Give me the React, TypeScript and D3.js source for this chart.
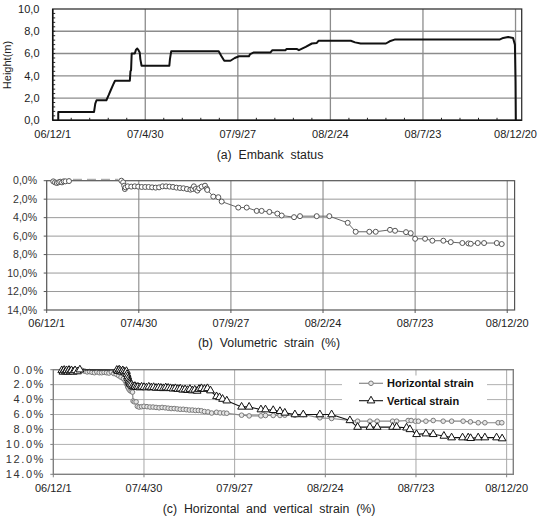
import React from "react";
import * as d3 from "d3";

// Days counted from 2006-12-01
const xTickDays = [0, 150, 300, 450, 600, 750];
const xTickLabels = ["06/12/1", "07/4/30", "07/9/27", "08/2/24", "08/7/23", "08/12/20"];
const heightTicks = [0, 2, 4, 6, 8, 10];
const strainTicks = [0, 2, 4, 6, 8, 10, 12, 14];

// (a) embankment height [day, m]
const embankHeight: [number, number][] = [
  [9, 0], [9, 0.75], [67, 0.75], [69, 1.5], [71, 1.8], [87, 1.8], [91, 2.3], [94, 2.7],
  [98, 3.2], [101, 3.55], [125, 3.55], [126, 4.4], [127, 4.5], [128, 6.0], [133, 6.0],
  [135, 6.35], [137, 6.45], [139, 6.3], [141, 6.1], [142, 5.5], [144, 4.9], [189, 4.9],
  [190, 5.5], [192, 6.2], [269, 6.2], [273, 5.8], [278, 5.35], [288, 5.35], [295, 5.6],
  [302, 5.75], [318, 5.75], [320, 5.95], [326, 6.1], [353, 6.1], [356, 6.3], [377, 6.3],
  [379, 6.4], [396, 6.4], [399, 6.3], [410, 6.6], [420, 6.9], [428, 6.95], [431, 7.15],
  [483, 7.15], [490, 7.0], [499, 6.9], [540, 6.9], [546, 7.1], [554, 7.25], [724, 7.25],
  [730, 7.4], [738, 7.48], [746, 7.4], [749, 6.8], [750, 3.5], [750.5, 0],
];

// (b) volumetric strain [day, %]
const volumetricStrain: [number, number][] = [
  [10.7, 0.07], [13.5, 0.18], [16.4, 0.25], [19.2, 0.18], [22, 0.11], [24.9, 0.18],
  [27.7, 0.07], [30.6, 0.07], [36.3, 0.04], [121.6, 0.0], [124.5, 0.18], [126.2, 0.54],
  [127.3, 0.9], [128.4, 0.72], [132, 0.61], [137.7, 0.64], [143.4, 0.61], [149, 0.64],
  [154.7, 0.68], [160.4, 0.68], [166, 0.68], [171.7, 0.72], [177.4, 0.75], [183, 0.72],
  [188.7, 0.61], [194.4, 0.61], [200, 0.64], [205.7, 0.68], [211.4, 0.75], [217, 0.79],
  [222.7, 0.82], [228.4, 0.9], [234, 0.97], [237.4, 0.9], [239.7, 0.61], [242.5, 0.9],
  [245.4, 1.07], [248.2, 0.82], [252.4, 0.64], [257.8, 0.54], [260.6, 0.85], [261.5, 1.0],
  [271.3, 1.72], [279.5, 1.79], [285, 2.26], [312, 2.91], [325.7, 2.91], [342, 3.27],
  [350, 3.27], [362.6, 3.38], [375.6, 3.56], [382.7, 3.77], [402.8, 3.95], [412.5, 3.84],
  [439.7, 3.84], [460.3, 3.84], [490.2, 4.56], [503.2, 5.53], [525.4, 5.53], [535.8, 5.53],
  [559.1, 5.32], [567.3, 5.42], [585.2, 5.57], [592.8, 5.68], [600, 6.29], [616.2, 6.29],
  [628.1, 6.5], [646, 6.5], [658, 6.65], [676.9, 6.75], [686.8, 6.79], [690.6, 6.83],
  [702, 6.75], [712.3, 6.75], [733, 6.75], [741, 6.86],
];

// (c) horizontal strain [day, %]
const horizontalStrain: [number, number][] = [
  [14, 0.1], [16, 0.2], [18, 0.05], [20, 0.2], [22, 0.1], [24, 0.25], [26, 0.1], [28, 0.2],
  [30, 0.15], [33, 0.05], [36, 0.2], [40, 0.1], [44, 0.15], [48, 0.1], [52, 0.2], [56, 0.3],
  [60, 0.25], [64, 0.35], [68, 0.4], [72, 0.3], [76, 0.4], [80, 0.4], [84, 0.35], [88, 0.4],
  [92, 0.45], [96, 0.3], [100, 0.5], [104, 0.6], [108, 0.8], [112, 1.0], [116, 1.2],
  [119, 1.5], [121, 1.9], [123, 2.3], [125, 2.6], [127, 2.8], [129, 2.9], [131, 3.0],
  [132, 4.2], [134, 4.3], [137, 4.3], [139, 4.9], [142, 5.0], [146, 4.95], [150, 4.9],
  [155, 4.95], [160, 5.0], [165, 5.0], [170, 5.05], [175, 5.1], [180, 5.05], [185, 5.1],
  [190, 5.15], [195, 5.2], [200, 5.2], [205, 5.25], [210, 5.3], [215, 5.3], [220, 5.35],
  [225, 5.4], [230, 5.4], [235, 5.45], [240, 5.45], [245, 5.5], [250, 5.6], [256, 5.65],
  [262, 5.8], [270, 5.7], [276, 5.78], [282, 5.8], [287, 5.83], [311.5, 6.09], [324, 6.18],
  [343.5, 6.18], [351, 6.13], [363.8, 6.13], [375, 6.13], [383, 6.09], [399.7, 6.09],
  [413.5, 6.0], [441, 6.44], [460.4, 6.53], [490.7, 6.79], [503.4, 6.89], [523.8, 6.89],
  [535.8, 6.89], [561.3, 6.89], [568, 6.89], [587, 6.8], [592, 6.8], [599, 6.89], [604, 6.89],
  [616.4, 6.89], [628.5, 6.8], [645, 6.89], [659, 6.89], [678, 6.89], [690, 6.98], [703, 7.1],
  [714, 7.1], [736, 7.1], [742, 7.1],
];

// (c) vertical strain [day, %]
const verticalStrain: [number, number][] = [
  [14, 0.1], [16, 0.3], [18, 0.05], [20, 0.25], [22, 0.1], [24, 0.3], [26, 0.05], [28, 0.25],
  [30, 0.1], [33, 0.3], [36, 0.1], [40, 0.25], [44, 0.0], [105, 0.05], [107, 0.2], [109, 0.0],
  [111, 0.15], [113, 0.3], [115, 0.1], [117, 0.25], [119, 0.4], [121, 0.2], [122, 0.6],
  [123, 0.9], [124, 1.2], [125, 1.5], [126, 1.7], [127, 1.9], [129, 2.0], [131, 2.2],
  [133, 2.3], [135, 2.2], [137, 2.35], [140, 2.3], [143, 2.4], [146, 2.3], [150, 2.35],
  [154, 2.4], [158, 2.3], [162, 2.4], [166, 2.35], [170, 2.45], [174, 2.4], [178, 2.45],
  [182, 2.5], [186, 2.4], [190, 2.45], [194, 2.5], [198, 2.55], [202, 2.5], [206, 2.6],
  [210, 2.55], [214, 2.7], [218, 2.65], [222, 2.75], [226, 2.6], [230, 2.8], [234, 2.7],
  [238, 2.85], [241, 2.6], [245, 2.5], [250, 2.6], [255, 2.5], [260, 2.8], [270, 3.58],
  [275, 3.71], [280, 3.93], [287, 4.15], [311.5, 4.98], [324, 4.98], [343.5, 5.34],
  [351, 5.34], [363.8, 5.43], [375, 5.56], [383, 5.78], [399.7, 6.0], [413.5, 6.0],
  [441, 6.0], [460.4, 6.0], [490.7, 6.79], [503.4, 7.68], [523.8, 7.68], [535.8, 7.68],
  [561.3, 7.68], [568, 7.68], [584.4, 7.77], [590, 7.99], [601, 8.65], [616.4, 8.56],
  [628.5, 8.65], [646.2, 8.87], [658.9, 9.09], [677, 9.09], [686.4, 9.09], [690.4, 9.18],
  [702.9, 9.09], [714, 9.09], [733.3, 9.09], [742.5, 9.22],
];

const seriesNames = ["Horizontal strain", "Vertical strain"];
const captions = ["(a)  Embank  status", "(b)  Volumetric  strain  (%)", "(c)  Horizontal  and  vertical  strain  (%)"];

const FONT = "'Liberation Sans', Arial, sans-serif";

const W = 547;
const H = 517;

const triangle = d3.symbol(d3.symbolTriangle, 26)() as string;

function XLabels({ x, y }: { x: d3.ScaleLinear<number, number>; y: number }) {
  return (
    <g fontFamily={FONT} fontSize={11} fill="#222" textAnchor="middle">
      {xTickDays.map((d, i) => (
        <text key={d} x={x(d)} y={y}>{xTickLabels[i]}</text>
      ))}
    </g>
  );
}

export default function App() {
  // ---------- (a) ----------
  const xA = d3.scaleLinear().domain([0, 760]).range([52.7, 521.7]);
  const yA = d3.scaleLinear().domain([0, 10]).range([120.3, 9]);
  const lineA = d3.line<[number, number]>().x((d) => xA(d[0])).y((d) => yA(d[1]));
  const minorXA = d3.range(30, 760, 30).filter((d) => d % 150 !== 0);
  const minorYA = d3.range(0.4, 10, 0.4);

  // ---------- (b) ----------
  const xB = d3.scaleLinear().domain([0, 762]).range([46.7, 514.6]);
  const yB = d3.scaleLinear().domain([0, 14]).range([180.7, 310]);
  const lineB = d3.line<[number, number]>().x((d) => xB(d[0])).y((d) => yB(d[1]));
  // split into solid runs; long gaps between readings are bridged with a dashed line
  const runsB: [number, number][][] = [];
  const bridgesB: [number, number][][] = [];
  volumetricStrain.forEach((p, i) => {
    if (i === 0 || p[0] - volumetricStrain[i - 1][0] > 40) {
      if (i > 0) bridgesB.push([volumetricStrain[i - 1], p]);
      runsB.push([p]);
    } else runsB[runsB.length - 1].push(p);
  });

  // ---------- (c) ----------
  const xC = d3.scaleLinear().domain([0, 761]).range([53.3, 513.3]);
  const yC = d3.scaleLinear().domain([0, 14]).range([369.7, 474.3]);
  const lineC = d3.line<[number, number]>().x((d) => xC(d[0])).y((d) => yC(d[1]));

  const fmtComma = (v: number) => v.toFixed(1).replace(".", ",");

  return (
    <svg width={W} height={H} style={{ position: "absolute", left: 0, top: 0, background: "#fff" }}>
      <rect width={W} height={H} fill="#fff" />

      {/* ---------------- (a) Embank status ---------------- */}
      <g>
        {heightTicks.slice(1, -1).map((t) => (
          <line key={t} x1={xA(0)} x2={xA(760)} y1={yA(t)} y2={yA(t)} stroke="#8c8c8c" strokeWidth={1.3} />
        ))}
        {xTickDays.slice(1).map((d) => (
          <line key={d} x1={xA(d)} x2={xA(d)} y1={yA(0)} y2={yA(10)} stroke="#8c8c8c" strokeWidth={1.3} />
        ))}
        <rect x={xA(0)} y={yA(10)} width={xA(760) - xA(0)} height={yA(0) - yA(10)} fill="none" stroke="#333" strokeWidth={1.3} />
        <line x1={xA(0)} x2={xA(0)} y1={yA(0)} y2={yA(10)} stroke="#111" strokeWidth={1.5} />
        <line x1={xA(0)} x2={xA(760)} y1={yA(0)} y2={yA(0)} stroke="#111" strokeWidth={1.5} />
        {minorXA.map((d) => (
          <line key={d} x1={xA(d)} x2={xA(d)} y1={yA(0)} y2={yA(0) - 2.5} stroke="#222" strokeWidth={1} />
        ))}
        {minorYA.map((v) => (
          <line key={v} x1={xA(0)} x2={xA(0) + 2.5} y1={yA(v)} y2={yA(v)} stroke="#222" strokeWidth={1} />
        ))}
        <path d={lineA(embankHeight) as string} fill="none" stroke="#111" strokeWidth={2} strokeLinejoin="round" />
        <g fontFamily={FONT} fontSize={11} fill="#222" textAnchor="end">
          {heightTicks.map((t) => (
            <text key={t} x={39.5} y={yA(t)} dy="0.35em">{fmtComma(t)}</text>
          ))}
        </g>
        <text transform={`translate(11,65) rotate(-90)`} fontFamily={FONT} fontSize={11} fill="#222" textAnchor="middle">
          Height(m)
        </text>
        <XLabels x={xA} y={138} />
        <text x={270} y={158.5} fontFamily={FONT} fontSize={12.3} fill="#222" textAnchor="middle" xmlSpace="preserve">
          {captions[0]}
        </text>
      </g>

      {/* ---------------- (b) Volumetric strain ---------------- */}
      <g>
        {strainTicks.slice(1, -1).map((t) => (
          <line key={t} x1={xB(0)} x2={xB(762)} y1={yB(t)} y2={yB(t)} stroke="#9a9a9a" strokeWidth={1} />
        ))}
        {xTickDays.slice(1).map((d) => (
          <line key={d} x1={xB(d)} x2={xB(d)} y1={yB(0)} y2={yB(14)} stroke="#8a8a8a" strokeWidth={1.1} />
        ))}
        <rect x={xB(0)} y={yB(0)} width={xB(762) - xB(0)} height={yB(14) - yB(0)} fill="none" stroke="#555" strokeWidth={1.2} />
        {xTickDays.map((d) => (
          <line key={d} x1={xB(d)} x2={xB(d)} y1={yB(14)} y2={yB(14) + 3} stroke="#555" strokeWidth={1} />
        ))}
        {strainTicks.map((t) => (
          <line key={t} x1={xB(0) - 3} x2={xB(0)} y1={yB(t)} y2={yB(t)} stroke="#555" strokeWidth={1} />
        ))}
        {bridgesB.map((seg, i) => (
          <line key={i} x1={xB(seg[0][0]) + 4} x2={xB(seg[1][0]) - 3} y1={yB(-0.15)} y2={yB(-0.15)}
            stroke="#999" strokeWidth={1} strokeDasharray="9 5" />
        ))}
        {runsB.map((run, i) => (
          <path key={i} d={lineB(run) as string} fill="none" stroke="#666" strokeWidth={1} />
        ))}
        {volumetricStrain.map((p, i) => (
          <circle key={i} cx={xB(p[0])} cy={yB(p[1])} r={2.5} fill="#fff" stroke="#555" strokeWidth={1} />
        ))}
        <g fontFamily={FONT} fontSize={10.5} fill="#333" textAnchor="end">
          {strainTicks.map((t) => (
            <text key={t} x={37} y={yB(t)} dy="0.35em">{fmtComma(t)}%</text>
          ))}
        </g>
        <XLabels x={xB} y={326.7} />
        <text x={269} y={347} fontFamily={FONT} fontSize={12.3} fill="#222" textAnchor="middle" xmlSpace="preserve">
          {captions[1]}
        </text>
      </g>

      {/* ---------------- (c) Horizontal and vertical strain ---------------- */}
      <g>
        {strainTicks.slice(1, -1).map((t) => (
          <line key={t} x1={xC(0)} x2={xC(761)} y1={yC(t)} y2={yC(t)} stroke="#b0b0b0" strokeWidth={1} />
        ))}
        {xTickDays.slice(1).map((d) => (
          <line key={d} x1={xC(d)} x2={xC(d)} y1={yC(0)} y2={yC(14)} stroke="#a8a8a8" strokeWidth={1} />
        ))}
        <rect x={xC(0)} y={yC(0)} width={xC(761) - xC(0)} height={yC(14) - yC(0)} fill="none" stroke="#808080" strokeWidth={1.4} />
        {xTickDays.map((d) => (
          <line key={d} x1={xC(d)} x2={xC(d)} y1={yC(14)} y2={yC(14) + 3} stroke="#808080" strokeWidth={1} />
        ))}
        {strainTicks.map((t) => (
          <line key={t} x1={xC(0) - 3} x2={xC(0)} y1={yC(t)} y2={yC(t)} stroke="#808080" strokeWidth={1} />
        ))}

        {/* horizontal strain */}
        <path d={lineC(horizontalStrain) as string} fill="none" stroke="#888" strokeWidth={1.2} />
        {horizontalStrain.map((p, i) => (
          <circle key={i} cx={xC(p[0])} cy={yC(p[1])} r={2.3} fill="#e6e6e6" stroke="#7a7a7a" strokeWidth={1} />
        ))}
        {/* vertical strain */}
        <path d={lineC(verticalStrain) as string} fill="none" stroke="#111" strokeWidth={1.1} />
        {verticalStrain.map((p, i) => (
          <path key={i} d={triangle} transform={`translate(${xC(p[0])},${yC(p[1])})`} fill="#fff" stroke="#111" strokeWidth={1} />
        ))}

        {/* legend */}
        <rect x={342} y={375.5} width={145} height={33} fill="#fff" />
        <line x1={359} x2={383} y1={383.3} y2={383.3} stroke="#888" strokeWidth={1.2} />
        <circle cx={371} cy={383.3} r={2.3} fill="#e6e6e6" stroke="#7a7a7a" strokeWidth={1} />
        <line x1={359} x2={383} y1={400.7} y2={400.7} stroke="#111" strokeWidth={1.1} />
        <path d={triangle} transform="translate(371,400.7)" fill="#fff" stroke="#111" strokeWidth={1} />
        <g fontFamily={FONT} fontSize={11} fontWeight="bold" fill="#111">
          <text x={387} y={383.3} dy="0.35em">{seriesNames[0]}</text>
          <text x={387} y={400.7} dy="0.35em">{seriesNames[1]}</text>
        </g>

        <g fontFamily={FONT} fontSize={11} fill="#333" textAnchor="end" letterSpacing={1.6}>
          {strainTicks.map((t) => (
            <text key={t} x={45} y={yC(t)} dy="0.35em">{t.toFixed(1)}%</text>
          ))}
        </g>
        <XLabels x={xC} y={491.7} />
        <text x={269} y={512.5} fontFamily={FONT} fontSize={12.3} fill="#222" textAnchor="middle" xmlSpace="preserve">
          {captions[2]}
        </text>
      </g>
    </svg>
  );
}
